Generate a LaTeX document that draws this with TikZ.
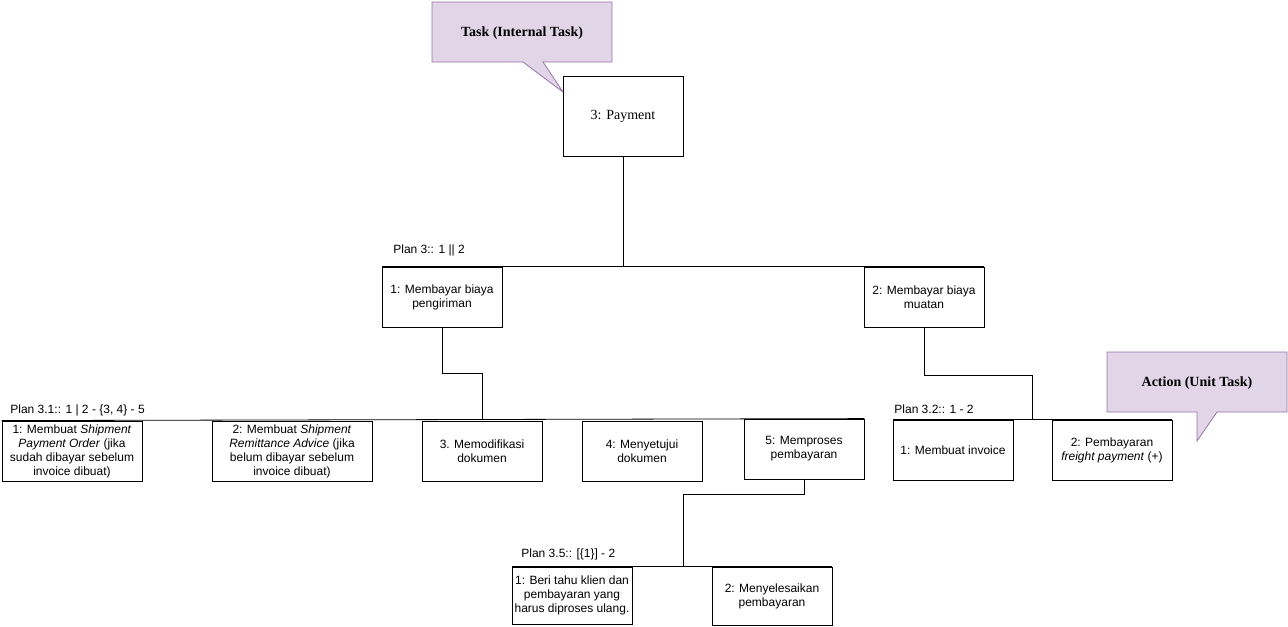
\documentclass[tikz,border=0pt]{standalone}
\usepackage{fontspec}
\setmainfont{Liberation Serif}
\setsansfont{Liberation Sans}
\definecolor{calloutfill}{HTML}{E1D5E7}
\definecolor{calloutdraw}{HTML}{9673A6}
\tikzset{
  box/.style={draw, inner sep=0pt, align=center, minimum width=90pt, minimum height=45pt,
    font=\sffamily\fontsize{9}{10.5}\selectfont},
  planlabel/.style={anchor=west, inner sep=0pt, font=\sffamily\fontsize{9}{10.5}\selectfont},
  callout/.style={fill=calloutfill, draw=calloutdraw, line width=0.6pt},
  callouttext/.style={font=\rmfamily\bfseries\fontsize{10.5}{12}\selectfont},
  conn/.style={draw, line width=0.6pt}
}
\begin{document}
\begin{tikzpicture}[x=0.75pt, y=-0.75pt, line width=0.6pt]
\useasboundingbox (0,0) rectangle (1288,626);
% callouts
\draw[callout] (432,2) -- (612,2) -- (612,62) -- (543,62) -- (563,92) -- (523,62) -- (432,62) -- cycle;
\node[callouttext] (tasklbl) at (522,33) {Task (Internal Task)};
\draw[callout] (1107,352) -- (1287,352) -- (1287,412) -- (1217,412) -- (1197,441) -- (1197,412) -- (1107,412) -- cycle;
\node[callouttext] (actlbl) at (1197,383) {Action (Unit Task)};
% root
\node[box, minimum height=60pt, font=\rmfamily\fontsize{10.5}{12}\selectfont] (pay) at (623,116) {3: Payment};
% level 1
\node[box] (a1) at (442,297) {1: Membayar biaya\\pengiriman};
\node[box] (a2) at (924,297) {2: Membayar biaya\\muatan};
\node[planlabel] (p3) at (393,250) {Plan 3:: 1 || 2};
% level 2 (plan 3.1)
\node[box, minimum width=105pt] (b1) at (72,451) {1: Membuat \textit{Shipment}\\\textit{Payment Order} (jika\\sudah dibayar sebelum\\invoice dibuat)};
\node[box, minimum width=120pt] (b2) at (292,451) {2: Membuat \textit{Shipment}\\\textit{Remittance Advice} (jika\\belum dibayar sebelum\\invoice dibuat)};
\node[box] (b3) at (482,451) {3. Memodifikasi\\dokumen};
\node[box] (b4) at (642,451) {4: Menyetujui\\dokumen};
\node[box] (b5) at (804,449) {5: Memproses\\pembayaran};
\node[planlabel] (p31) at (10,410) {Plan 3.1:: 1 | 2 - \{3, 4\} - 5};
% plan 3.2
\node[box] (c1) at (953,450) {1: Membuat invoice};
\node[box] (c2) at (1112,450) {2: Pembayaran\\\textit{freight payment} (+)};
\node[planlabel] (p32) at (894,409) {Plan 3.2:: 1 - 2};
% plan 3.5
\node[box, minimum height=42.75pt] (d1) at (572,595.5) {1: Beri tahu klien dan\\pembayaran yang\\harus diproses ulang.};
\node[box, minimum height=43.5pt] (d2) at (772,596) {2: Menyelesaikan\\pembayaran};
\node[planlabel] (p35) at (521,554) {Plan 3.5:: [\{1\}] - 2};
% join coordinates
\coordinate (bjoin) at (482,420);
\coordinate (cjoin) at (1032,420);
\coordinate (djoin) at (683,567);
% connectors
\draw[conn] (a1.north west) -- (a2.north east);
\draw[conn] (pay.south) -- (pay.south |- a1.north);
\draw[conn] (b1.north west) -- (b5.north east);
\draw[conn] (a1.south) -- ++(0,46) -| (bjoin);
\draw[conn] (c1.north west) -- (c2.north east);
\draw[conn] (a2.south) -- ++(0,48) -| (cjoin);
\draw[conn] (d1.north west) -- (d2.north east);
\draw[conn] (b5.south) -- ++(0,15) -| (djoin);
\end{tikzpicture}
\end{document}
